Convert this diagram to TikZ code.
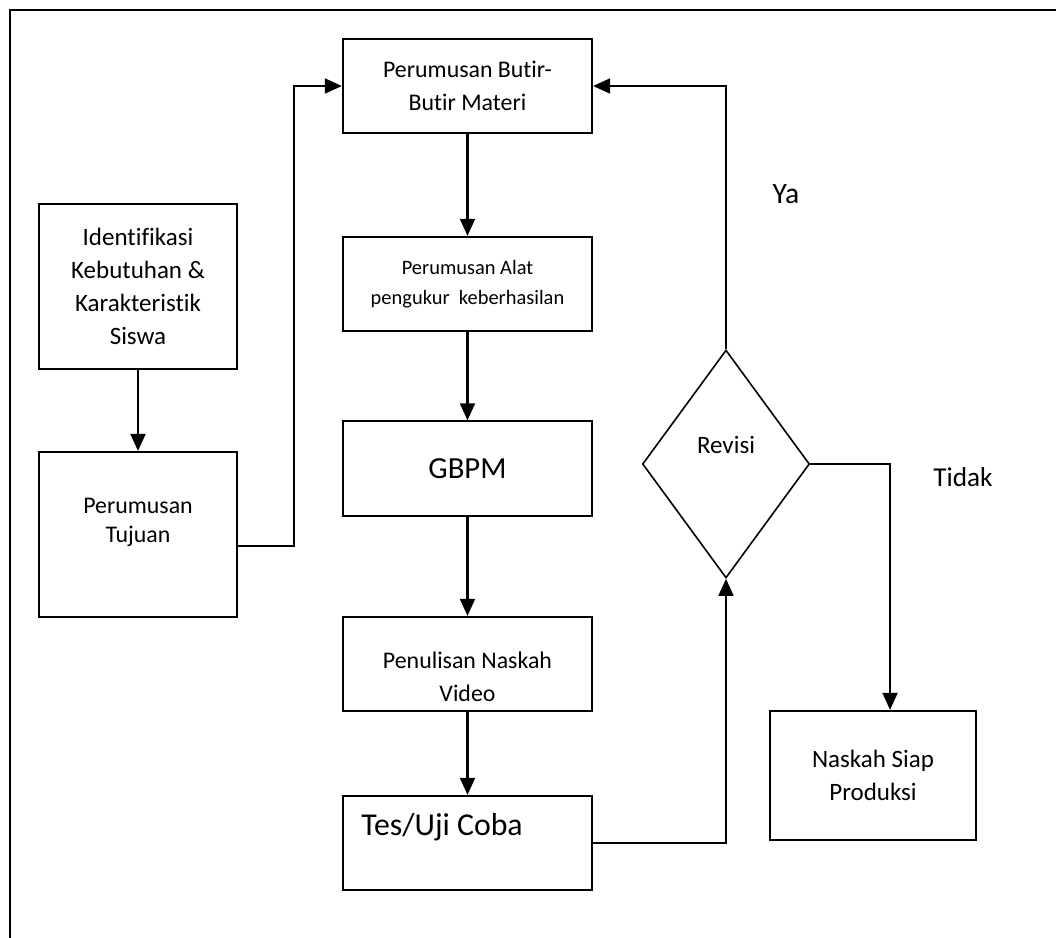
\documentclass[tikz,border=0pt]{standalone}
\usepackage{fontspec}
\setmainfont{Carlito}[Ligatures={NoCommon,NoContextual}]
\usetikzlibrary{shapes,arrows,arrows.meta}
\newcommand{\fsz}[2]{\fontsize{#1}{#2}\selectfont}
\tikzstyle{block} = [rectangle, draw, line width=0.9pt, align=center, inner sep=0pt]
\tikzstyle{boxl} = [block, minimum width=87.1pt, minimum height=72.6pt]
\tikzstyle{boxc} = [block, minimum width=109.6pt, minimum height=41.4pt]
\tikzstyle{decision} = [diamond, draw, line width=0.7pt, minimum width=73.5pt, minimum height=100.3pt, inner sep=0pt]
\tikzstyle{line} = [draw, line width=1.1pt, -{Triangle[length=7.5pt,width=6.5pt]}]

\begin{document}
\begin{tikzpicture}[x=0.44pt, y=-0.44pt]
\useasboundingbox (0,0) rectangle (1056,938);
\clip (0,0) rectangle (1056,938);
\draw [line width=0.8pt] (1070,10) -- (10,10) -- (10,950);
\node [boxl, font=\fsz{11}{14.5}] (ident) at (138,286.5) {Identifikasi\\Kebutuhan \&\\Karakteristik\\Siswa};
\node [boxl, label={[yshift=5.3pt, font=\fsz{10.5}{12.8}, align=center]center:Perumusan\\Tujuan}] (tujuan) at (138,534.5) {};
\node [boxc, font=\fsz{10.5}{14.5}] (butir) at (467.5,86) {Perumusan Butir-\\Butir Materi};
\node [boxc, font=\fsz{9}{13.2}] (alat) at (467.5,284) {Perumusan Alat\\pengukur\ \ keberhasilan};
\node [boxc, font=\fsz{13.5}{16}] (gbpm) at (467.5,468.5) {GBPM};
\node [boxc, label={[yshift=-5.7pt, font=\fsz{10.5}{14.5}, align=center]center:Penulisan Naskah\\Video}] (tulis) at (467.5,664) {};
\node [boxc, label={[anchor=west, xshift=5pt, yshift=7pt, font=\fsz{14}{17}]west:Tes/Uji Coba}] (tes) at (467.5,843) {};
\node [decision, label={[yshift=8.4pt, font=\fsz{11}{14}]center:Revisi}] (revisi) at (726,464) {};
\node [block, minimum width=90.6pt, minimum height=56.8pt, font=\fsz{11}{14.5}] (naskah) at (873,775.5) {Naskah Siap\\Produksi};
\node [font=\fsz{13}{15}] (ya) at (786,194) {Ya};
\node [font=\fsz{12}{15}] (tidak) at (963,477) {Tidak};
\path [line] (ident) -- (tujuan);
\path [line] ([yshift=-5pt]tujuan.east) -- ++(56,0) |- (butir.west);
\path [line] (butir) -- (alat);
\path [line] (alat) -- (gbpm);
\path [line] (gbpm) -- (tulis);
\path [line] (tulis) -- (tes);
\path [line] (tes.east) -| (revisi.south);
\path [line] (revisi.north) |- (butir.east);
\path [line] (revisi.east) -| ([xshift=7.5pt]naskah.north);
\end{tikzpicture}
\end{document}
